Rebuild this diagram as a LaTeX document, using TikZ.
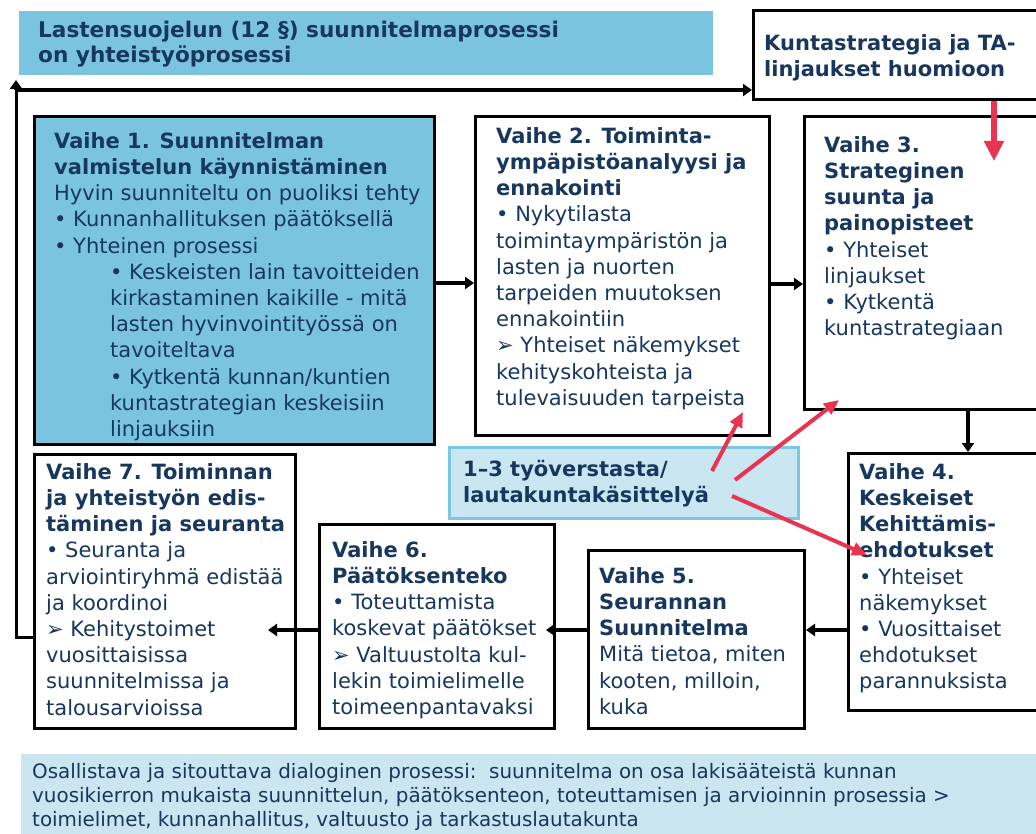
\documentclass[tikz,border=0pt]{standalone}
\usepackage{fontspec}
\setmainfont{DejaVu Sans}
\usetikzlibrary{arrows.meta}
\definecolor{navy}{RGB}{23,55,94}
\definecolor{midblue}{RGB}{122,196,224}
\definecolor{paleblue}{RGB}{201,230,241}
\definecolor{paleedge}{RGB}{125,198,227}
\definecolor{botblue}{RGB}{203,230,240}
\definecolor{redarrow}{RGB}{232,51,81}
\tikzset{
  stagebox/.style={draw=black, line width=3pt, fill=white, anchor=north west, inner sep=0pt},
  txt/.style={anchor=north west, inner sep=0pt, align=left, text=navy, font=\fontsize{21}{26.2}\selectfont},
  flow/.style={draw=black, line width=3.5pt, -{Triangle[length=9pt,width=12pt]}},
  loopline/.style={draw=black, line width=3pt},
  redflow/.style={draw=redarrow, line width=4pt, -{Triangle[length=15pt,width=13pt]}},
  bigred/.style={draw=redarrow, line width=6.5pt, -{Triangle[length=20pt,width=19pt]}},
}
\begin{document}
\begin{tikzpicture}[x=1pt,y=-1pt]
\useasboundingbox (0,0) rectangle (1036,834);
% title
\node[fill=midblue, anchor=north west, inner sep=0pt, minimum width=694pt, minimum height=64pt] (title) at (19,11) {};
\node[txt, font=\fontsize{21.6}{25}\selectfont\bfseries] (titletxt) at (38,19.5) {\strut Lastensuojelun (12 §) suunnitelmaprosessi\\on yhteistyöprosessi};
% kuntastrategia
\node[stagebox, minimum width=284pt, minimum height=89pt] (ks) at (752,9) {};
\node[txt, font=\fontsize{21}{26.2}\selectfont\bfseries] (kstxt) at (764,31.7) {\strut Kuntastrategia ja TA-\\linjaukset huomioon};
% stage boxes
\node[stagebox, fill=midblue, minimum width=400pt, minimum height=328pt] (v1) at (33,115) {};
\node[stagebox, minimum width=294pt, minimum height=319pt] (v2) at (474,115) {};
\node[stagebox, minimum width=235pt, minimum height=293pt] (v3) at (803,115) {};
\node[stagebox, minimum width=191pt, minimum height=257pt] (v4) at (847,452) {};
\node[stagebox, minimum width=216pt, minimum height=178pt] (v5) at (587,549) {};
\node[stagebox, minimum width=235pt, minimum height=204pt] (v6) at (318,523) {};
\node[stagebox, minimum width=261pt, minimum height=274pt] (v7) at (33,453) {};
% workshop box
\node[draw=paleedge, fill=paleblue, line width=3pt, anchor=north west, inner sep=0pt, minimum width=349pt, minimum height=71pt] (ws) at (448,446) {};
% bottom box
\node[fill=botblue, anchor=north west, inner sep=0pt, minimum width=1016pt, minimum height=80pt] (bottom) at (21,754) {};
% texts
\node[txt] (v1txt) at (54,129.7) {\strut\textbf{Vaihe 1. Suunnitelman}\\\textbf{valmistelun käynnistäminen}\\Hyvin suunniteltu on puoliksi tehty\\• Kunnanhallituksen päätöksellä\\• Yhteinen prosessi\\\hspace*{56pt}• Keskeisten lain tavoitteiden\\\hspace*{56pt}kirkastaminen kaikille - mitä\\\hspace*{56pt}lasten hyvinvointityössä on\\\hspace*{56pt}tavoiteltava\\\hspace*{56pt}• Kytkentä kunnan/kuntien\\\hspace*{56pt}kuntastrategian keskeisiin\\\hspace*{56pt}linjauksiin};
\node[txt] (v2txt) at (496,124.7) {\strut\textbf{Vaihe 2. Toiminta-}\\\textbf{ympäpistöanalyysi ja}\\\textbf{ennakointi}\\• Nykytilasta\\toimintaympäristön ja\\lasten ja nuorten\\tarpeiden muutoksen\\ennakointiin\\➢ Yhteiset näkemykset\\kehityskohteista ja\\tulevaisuuden tarpeista};
\node[txt] (v3txt) at (824,133.7) {\strut\textbf{Vaihe 3.}\\\textbf{Strateginen}\\\textbf{suunta ja}\\\textbf{painopisteet}\\• Yhteiset\\linjaukset\\• Kytkentä\\kuntastrategiaan};
\node[txt] (v4txt) at (859,460.7) {\strut\textbf{Vaihe 4.}\\\textbf{Keskeiset}\\\textbf{Kehittämis-}\\\textbf{ehdotukset}\\• Yhteiset\\näkemykset\\• Vuosittaiset\\ehdotukset\\parannuksista};
\node[txt] (v5txt) at (599,564.7) {\strut\textbf{Vaihe 5.}\\\textbf{Seurannan}\\\textbf{Suunnitelma}\\Mitä tietoa, miten\\kooten, milloin,\\kuka};
\node[txt] (v6txt) at (332,538.7) {\strut\textbf{Vaihe 6.}\\\textbf{Päätöksenteko}\\• Toteuttamista\\koskevat päätökset\\➢ Valtuustolta kul-\\lekin toimielimelle\\toimeenpantavaksi};
\node[txt] (v7txt) at (46,460.7) {\strut\textbf{Vaihe 7. Toiminnan}\\\textbf{ja yhteistyön edis-}\\\textbf{täminen ja seuranta}\\• Seuranta ja\\arviointiryhmä edistää\\ja koordinoi\\➢ Kehitystoimet\\vuosittaisissa\\suunnitelmissa ja\\talousarvioissa};
\node[txt, font=\fontsize{21}{25.5}\selectfont\bfseries] (wstxt) at (463,458.7) {\strut 1–3 työverstasta/\\lautakuntakäsittelyä};
\node[txt, font=\fontsize{19.9}{24}\selectfont] (bottomtxt) at (32,761) {\strut Osallistava ja sitouttava dialoginen prosessi:\ \ suunnitelma on osa lakisääteistä kunnan\\vuosikierron mukaista suunnittelun, päätöksenteon, toteuttamisen ja arvioinnin prosessia >\\toimielimet, kunnanhallitus, valtuusto ja tarkastuslautakunta};
% coordinates
\coordinate (loopA) at (16,637);
\coordinate (loopB) at (16,90);
\coordinate (loopTip) at (16,80);
\coordinate (v7in) at (268,630);
\coordinate (v6in) at (546,630);
\coordinate (redKs) at (994,161);
\coordinate (r1s) at (712,471);
\coordinate (r1e) at (743,412);
\coordinate (r2s) at (735,480);
\coordinate (r2e) at (839,400);
\coordinate (r3s) at (732,496);
\coordinate (r3e) at (867,555);
% black flow
\draw[flow] (v1.east |- 0,283) -- (v2.west |- 0,283);
\draw[flow] (v2.east |- 0,284) -- (v3.west |- 0,284);
\draw[flow] (v3.south -| 968,0) -- (v4.north -| 968,0);
\draw[flow] (v4.west |- v6in) -- (v5.east |- v6in);
\draw[flow] (v5.west |- v6in) -- (v6in);
\draw[flow] (v6.west |- v7in) -- (v7in);
\draw[loopline] (v7.west |- loopA) -- (loopA) -- (loopB);
\draw[flow] (loopB) -- (loopTip);
\draw[flow] ([xshift=-1.5pt]loopB) -- (ks.west |- loopB);
% red arrows
\draw[bigred] (ks.south -| redKs) -- (redKs);
\draw[redflow] (r1s) -- (r1e);
\draw[redflow] (r2s) -- (r2e);
\draw[redflow] (r3s) -- (r3e);
\end{tikzpicture}
\end{document}
